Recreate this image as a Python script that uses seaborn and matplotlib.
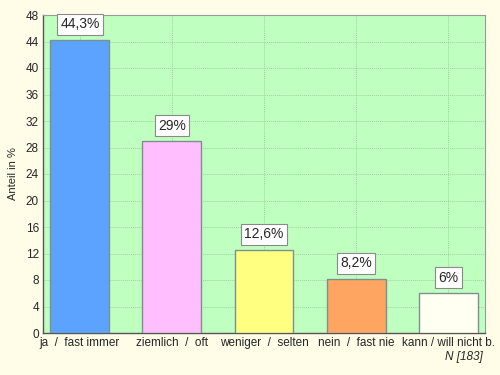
import matplotlib
matplotlib.use('Agg')
import matplotlib.pyplot as plt
import seaborn as sns
import pandas as pd

# values
kategorien = ['ja  /  fast immer', 'ziemlich  /  oft', 'weniger  /  selten',
              'nein  /  fast nie', 'kann / will nicht b.']
anteile = [44.3, 29.0, 12.6, 8.2, 6.0]
beschriftung = ['44,3%', '29%', '12,6%', '8,2%', '6%']
farben = ['#5ba3ff', '#ffbfff', '#ffff80', '#ffa562', '#fffff2']

df = pd.DataFrame({'Kategorie': kategorien, 'Anteil': anteile})

sns.set_style('whitegrid')
plt.rcParams['font.family'] = ['Liberation Sans', 'DejaVu Sans']

fig = plt.figure(figsize=(5, 3.75), dpi=100, facecolor='#fffde8')
ax = fig.add_axes([0.086, 0.112, 0.884, 0.848])
ax.set_facecolor('#bfffbf')

sns.barplot(data=df, x='Kategorie', y='Anteil', hue='Kategorie',
            palette=farben, saturation=1, width=0.64, edgecolor='#7f8f8f',
            linewidth=1, legend=False, ax=ax, zorder=3)

for i, (v, txt) in enumerate(zip(anteile, beschriftung)):
    ax.annotate(txt, (i, v), xytext=(0, 6), textcoords='offset points',
                ha='center', va='bottom', fontsize=10, zorder=5,
                bbox=dict(boxstyle='square,pad=0.25', fc='white', ec='#8a8a8a', lw=0.8))

ax.set_ylim(0, 48)
ax.set_xlim(-0.4, 4.4)
ax.set_yticks(range(0, 49, 4))
ax.grid(True, color='#9fd49f', linestyle=(0, (1, 1)), linewidth=0.7, zorder=0)
ax.set_axisbelow(True)
ax.tick_params(axis='both', labelsize=8.5, length=0, pad=3)
ax.set_xlabel('')
ax.set_ylabel('Anteil in %', fontsize=8)
ax.yaxis.set_label_coords(-0.057, 0.5)
for s in ['left', 'bottom']:
    ax.spines[s].set_color('#555555')
    ax.spines[s].set_linewidth(1)
for s in ['top', 'right']:
    ax.spines[s].set_color('#999999')
    ax.spines[s].set_linewidth(0.8)

fig.text(0.965, 0.048, 'N [183]', ha='right', va='center', fontsize=8.5, style='italic')

fig.savefig('out.png', dpi=100, facecolor=fig.get_facecolor())
